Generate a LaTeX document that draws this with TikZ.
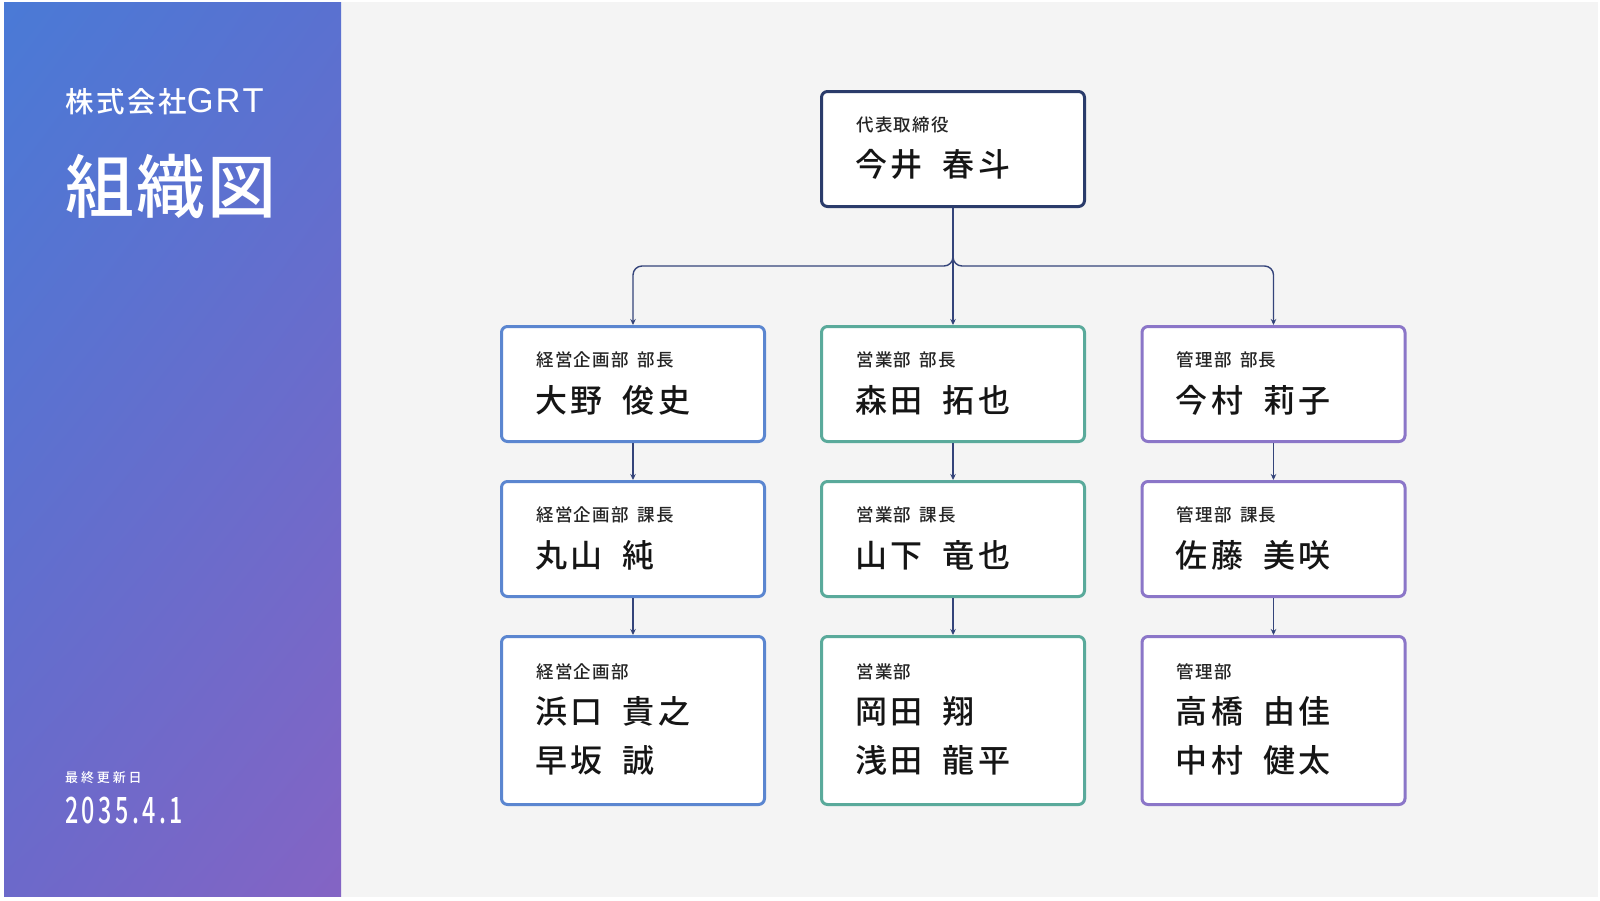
\documentclass[tikz,border=0pt]{standalone}
\usepackage{fontspec}
\IfFontExistsTF{Noto Sans CJK JP Medium}
  {\def\medfam{Noto Sans CJK JP Medium}\def\medopt{}}
  {\def\medfam{Noto Sans CJK JP}\def\medopt{FakeBold=1}}
\setmainfont{Noto Sans CJK JP}
\newfontfamily\jpname{\medfam}[LetterSpace=11]
\newfontfamily\jplbl{\medfam}[LetterSpace=8]
\newfontfamily\jpco{\medfam}[LetterSpace=9]
\newfontfamily\jptitle{\medfam}[LetterSpace=3]
\newfontfamily\jpdate{\medfam}[LetterSpace=22]
\newfontfamily\jpdigits{\medfam}[LetterSpace=15]
\newfontfamily\latinsans{Liberation Sans}
\usetikzlibrary{arrows.meta,shadings}
\definecolor{bggray}{HTML}{F4F4F4}
\definecolor{gUL}{HTML}{4A7AD6}
\definecolor{gUR}{HTML}{5A71D0}
\definecolor{gLL}{HTML}{6C69CA}
\definecolor{gLR}{HTML}{8464C4}
\definecolor{cTop}{HTML}{2B3C6B}
\definecolor{cL}{HTML}{5B86D0}
\definecolor{cM}{HTML}{5AAA9B}
\definecolor{cR}{HTML}{8B76C8}
\definecolor{cLine}{HTML}{34447A}
\definecolor{cName}{HTML}{151515}
\definecolor{cLbl}{HTML}{252525}
\newcommand{\pname}[2]{#1\hspace{20pt}#2}
\newcommand{\plbl}[2]{#1\hspace{8pt}#2}
\begin{document}
\begin{tikzpicture}[x=1pt,y=-1pt,
  card/.style={draw=#1, line width=3pt, fill=white, rounded corners=6pt,
    minimum width=263pt, minimum height=115pt, inner sep=0pt},
  tallcard/.style={card=#1, minimum height=168pt},
  lbl/.style={anchor=base west, inner sep=0pt, text=cLbl,
    font=\jplbl\fontsize{17.5}{20}\selectfont},
  nm/.style={anchor=base west, inner sep=0pt, text=cName,
    font=\jpname\fontsize{32}{36}\selectfont},
  link/.style={draw=cLine, line width=1.4pt, rounded corners=9pt,
    -{Stealth[length=6pt,width=5.5pt]}}
]
\useasboundingbox (0,0) rectangle (1600,900);
\fill[white] (0,0) rectangle (1600,900);
\fill[bggray] (4,2) rectangle (1598,897);
\shade[upper left=gUL, upper right=gUR, lower left=gLL, lower right=gLR]
  (4,2) rectangle (341,896);

% left panel texts
\node[anchor=base west, inner sep=0pt, text=white] (company) at (65,112.5)
  {{\jpco\fontsize{28.5}{32}\selectfont 株式会社}{\latinsans\fontsize{34.5}{38}\selectfont G\hspace{2pt}R\hspace{2pt}T}};
\node[anchor=base west, inner sep=0pt, text=white,
  font=\jptitle\fontsize{69}{72}\selectfont] (title) at (65,212) {組織図};
\node[anchor=base west, inner sep=0pt, text=white,
  font=\jpdate\fontsize{13}{15}\selectfont] (updlbl) at (65,782) {最終更新日};
\node[anchor=base west, inner sep=0pt, text=white] (upddate) at (65,823.5)
  {\resizebox{118pt}{26.5pt}{\jpdigits\fontsize{38}{40}\selectfont 2035.4.1}};

% boxes
\node[card=cTop] (top) at (953,149) {};
\node[card=cL] (l1) at (633,384) {};
\node[card=cM] (m1) at (953,384) {};
\node[card=cR] (r1) at (1273.5,384) {};
\node[card=cL] (l2) at (633,539) {};
\node[card=cM] (m2) at (953,539) {};
\node[card=cR] (r2) at (1273.5,539) {};
\node[tallcard=cL] (l3) at (633,720.5) {};
\node[tallcard=cM] (m3) at (953,720.5) {};
\node[tallcard=cR] (r3) at (1273.5,720.5) {};

% texts
\node[lbl] (topL) at ([xshift=36pt,yshift=-41pt]top.north west) {代表取締役};
\node[nm]  (topN) at ([xshift=35pt,yshift=-86pt]top.north west) {\pname{今井}{春斗}};

\node[lbl] (l1L) at ([xshift=36pt,yshift=-41.5pt]l1.north west) {\plbl{経営企画部}{部長}};
\node[nm]  (l1N) at ([xshift=35pt,yshift=-87pt]l1.north west) {\pname{大野}{俊史}};
\node[lbl] (m1L) at ([xshift=36pt,yshift=-41.5pt]m1.north west) {\plbl{営業部}{部長}};
\node[nm]  (m1N) at ([xshift=35pt,yshift=-87pt]m1.north west) {\pname{森田}{拓也}};
\node[lbl] (r1L) at ([xshift=36pt,yshift=-41.5pt]r1.north west) {\plbl{管理部}{部長}};
\node[nm]  (r1N) at ([xshift=35pt,yshift=-87pt]r1.north west) {\pname{今村}{莉子}};

\node[lbl] (l2L) at ([xshift=36pt,yshift=-41.5pt]l2.north west) {\plbl{経営企画部}{課長}};
\node[nm]  (l2N) at ([xshift=35pt,yshift=-87pt]l2.north west) {\pname{丸山}{純}};
\node[lbl] (m2L) at ([xshift=36pt,yshift=-41.5pt]m2.north west) {\plbl{営業部}{課長}};
\node[nm]  (m2N) at ([xshift=35pt,yshift=-87pt]m2.north west) {\pname{山下}{竜也}};
\node[lbl] (r2L) at ([xshift=36pt,yshift=-41.5pt]r2.north west) {\plbl{管理部}{課長}};
\node[nm]  (r2N) at ([xshift=35pt,yshift=-87pt]r2.north west) {\pname{佐藤}{美咲}};

\node[lbl] (l3L) at ([xshift=36pt,yshift=-43pt]l3.north west) {経営企画部};
\node[nm]  (l3N) at ([xshift=35pt,yshift=-88pt]l3.north west) {\pname{浜口}{貴之}};
\node[nm]  (l3N2) at ([xshift=35pt,yshift=-137pt]l3.north west) {\pname{早坂}{誠}};
\node[lbl] (m3L) at ([xshift=36pt,yshift=-43pt]m3.north west) {営業部};
\node[nm]  (m3N) at ([xshift=35pt,yshift=-88pt]m3.north west) {\pname{岡田}{翔}};
\node[nm]  (m3N2) at ([xshift=35pt,yshift=-137pt]m3.north west) {\pname{浅田}{龍平}};
\node[lbl] (r3L) at ([xshift=36pt,yshift=-43pt]r3.north west) {管理部};
\node[nm]  (r3N) at ([xshift=35pt,yshift=-88pt]r3.north west) {\pname{高橋}{由佳}};
\node[nm]  (r3N2) at ([xshift=35pt,yshift=-137pt]r3.north west) {\pname{中村}{健太}};

% connectors
\draw[link] (top.south) -- ++(0,58) -| (l1.north);
\draw[link] (top.south) -- ++(0,58) -| (r1.north);
\draw[link] (top.south) -- (m1.north);
\draw[link] (l1.south) -- (l2.north);
\draw[link] (m1.south) -- (m2.north);
\draw[link] (r1.south) -- (r2.north);
\draw[link] (l2.south) -- (l3.north);
\draw[link] (m2.south) -- (m3.north);
\draw[link] (r2.south) -- (r3.north);
\end{tikzpicture}
\end{document}
